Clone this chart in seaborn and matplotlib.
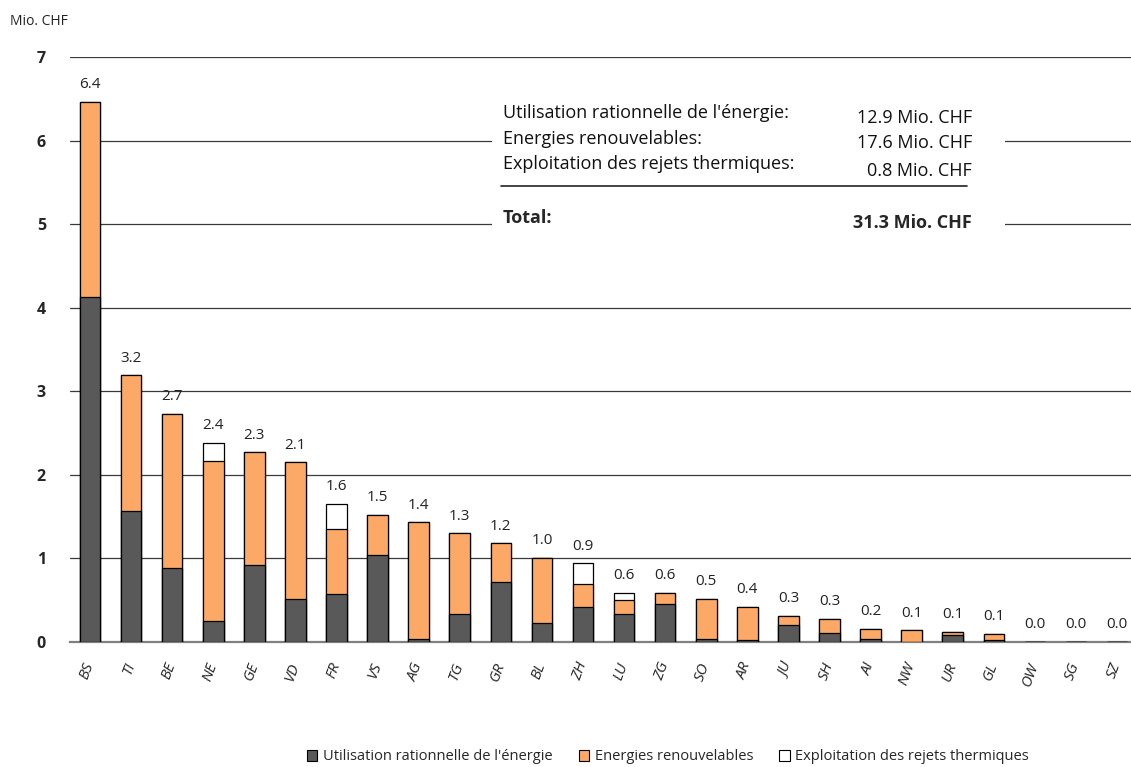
import numpy as np
import pandas as pd
import matplotlib
matplotlib.use("Agg")
import matplotlib.pyplot as plt
import seaborn as sns
from matplotlib.patches import Patch, Rectangle

# Cantons and values (Mio. CHF)
cantons = ['BS', 'TI', 'BE', 'NE', 'GE', 'VD', 'FR', 'VS', 'AG', 'TG', 'GR', 'BL', 'ZH',
           'LU', 'ZG', 'SO', 'AR', 'JU', 'SH', 'AI', 'NW', 'UR', 'GL', 'OW', 'SG', 'SZ']
rationnelle = [4.13, 1.57, 0.89, 0.25, 0.92, 0.52, 0.58, 1.04, 0.04, 0.34, 0.72, 0.23, 0.42,
               0.34, 0.46, 0.04, 0.02, 0.20, 0.11, 0.04, 0.00, 0.08, 0.02, 0.0, 0.0, 0.0]
renouvelables = [2.33, 1.62, 1.84, 1.91, 1.35, 1.63, 0.77, 0.48, 1.39, 0.96, 0.46, 0.78, 0.27,
                 0.16, 0.13, 0.48, 0.40, 0.11, 0.17, 0.12, 0.14, 0.04, 0.08, 0.0, 0.0, 0.0]
rejets = [0.0, 0.0, 0.0, 0.22, 0.0, 0.0, 0.30, 0.0, 0.0, 0.0, 0.0, 0.0, 0.25,
          0.09, 0.0, 0.0, 0.0, 0.0, 0.0, 0.0, 0.0, 0.0, 0.0, 0.0, 0.0, 0.0]
total_labels = ['6.4', '3.2', '2.7', '2.4', '2.3', '2.1', '1.6', '1.5', '1.4', '1.3', '1.2', '1.0', '0.9',
                '0.6', '0.6', '0.5', '0.4', '0.3', '0.3', '0.2', '0.1', '0.1', '0.1', '0.0', '0.0', '0.0']

series_names = ["Utilisation rationnelle de l'énergie", "Energies renouvelables",
                "Exploitation des rejets thermiques"]
series_totals = ['12.9 Mio. CHF', '17.6 Mio. CHF', '0.8 Mio. CHF']
grand_total = '31.3 Mio. CHF'

col_dark = '#595959'
col_orange = '#FCA866'
col_white = '#FFFFFF'

df = pd.DataFrame({'canton': cantons, 'r1': rationnelle, 'r2': renouvelables, 'r3': rejets})
df['cum2'] = df['r1'] + df['r2']
df['cum3'] = df['cum2'] + df['r3']

sns.set_style("white")
plt.rcParams['font.family'] = ['Open Sans', 'DejaVu Sans']

W, H = 1131, 767
fig = plt.figure(figsize=(W / 100, H / 100), dpi=100)
ax = fig.add_axes([69.5 / W, 1 - 642 / H, 1 - 69.5 / W, (642 - 57) / H])

def px(x, y):
    return x / W, 1 - y / H

# stacked bars drawn as overlapping cumulative bars
bar_kw = dict(width=0.5, edgecolor='black', linewidth=0.9, ax=ax, saturation=1, zorder=3)
sns.barplot(data=df, x='canton', y='cum3', color=col_white, **bar_kw)
sns.barplot(data=df, x='canton', y='cum2', color=col_orange, **bar_kw)
sns.barplot(data=df, x='canton', y='r1', color=col_dark, **bar_kw)

# value labels above bars
for i, (tot, lab) in enumerate(zip(df['cum3'], total_labels)):
    ax.annotate(lab, (i, tot), xytext=(0, 7), textcoords='offset points',
                ha='center', va='bottom', fontsize=11, color='#222222')

ax.set_ylim(0, 7)
ax.set_xlim(-0.5, 25.34)
ax.set_yticks(range(0, 8))
ax.set_yticklabels([str(v) for v in range(0, 8)], fontweight='bold', fontsize=11.5)
ax.yaxis.grid(True, color='#3a3a3a', linewidth=0.9, zorder=0)
ax.set_axisbelow(True)
ax.set_xlabel('')
ax.set_ylabel('')
for s in ['top', 'right', 'left']:
    ax.spines[s].set_visible(False)
ax.spines['bottom'].set_color('#808080')
ax.spines['bottom'].set_linewidth(1.6)
ax.tick_params(axis='y', length=0, pad=17)

# x ticks: labels at bars, tick marks between bars
ax.set_xticks(np.arange(len(cantons)))
ax.set_xticklabels(cantons, rotation=70, fontstyle='italic', fontsize=11,
                   ha='right', va='center', rotation_mode='anchor')
ax.tick_params(axis='x', which='major', length=0, pad=15)
ax.set_xticks(np.arange(len(cantons)) - 0.5, minor=True)
ax.tick_params(axis='x', which='minor', length=5, width=1, color='#808080', direction='out')

# summary box
fig.patches.append(Rectangle(px(492, 245), 513 / W, 155 / H, transform=fig.transFigure,
                             facecolor='white', edgecolor='none', zorder=2))
ax.set_zorder(1)
ax.patch.set_alpha(0)
label_y = [118, 144, 169]
value_y = [123, 148, 176]
for name, y in zip(series_names, label_y):
    fig.text(*px(503, y), name + ':', fontsize=13, va='baseline', ha='left', color='#111111', zorder=5)
for val, y in zip(series_totals, value_y):
    fig.text(*px(972, y), val, fontsize=13, va='baseline', ha='right', color='#111111', zorder=5)
fig.add_artist(plt.Line2D([501 / W, 967 / W], [1 - 186 / H, 1 - 186 / H], color='#222222',
                          linewidth=1.2, transform=fig.transFigure, zorder=5))
fig.text(*px(503, 223), 'Total:', fontsize=13, fontweight='bold', va='baseline', ha='left', zorder=5)
fig.text(*px(972, 228), grand_total, fontsize=13, fontweight='bold', va='baseline', ha='right', zorder=5)

fig.text(*px(10, 25), 'Mio. CHF', fontsize=10, va='baseline', ha='left', color='#222222')

handles = [Patch(facecolor=c, edgecolor='black', linewidth=0.8) for c in [col_dark, col_orange, col_white]]
fig.legend(handles, series_names, loc='center', bbox_to_anchor=px(668, 757), ncol=3, frameon=False,
           fontsize=10.5, handlelength=0.7, handleheight=0.7, handletextpad=0.4, columnspacing=1.8)

fig.savefig('out.png', dpi=100)
